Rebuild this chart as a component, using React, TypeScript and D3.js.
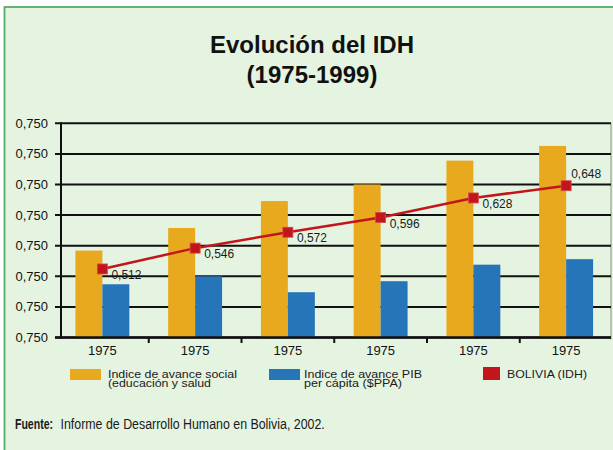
import React, { useEffect, useRef } from "react"
import * as d3 from "d3"

// data
const years = ["1975", "1975", "1975", "1975", "1975", "1975"]
const socialIndex = [0.542, 0.579, 0.623, 0.650, 0.689, 0.713]
const pibIndex = [0.487, 0.500, 0.474, 0.492, 0.519, 0.528]
const idhBolivia = [0.512, 0.546, 0.572, 0.596, 0.628, 0.648]
const idhLabels = ["0,512", "0,546", "0,572", "0,596", "0,628", "0,648"]
const yTicks = [0.40, 0.45, 0.50, 0.55, 0.60, 0.65, 0.70, 0.75]
const yTickLabels = ["0,750", "0,750", "0,750", "0,750", "0,750", "0,750", "0,750", "0,750"]
const legendLabels = [
    ["Indice de avance social", "(educación y salud"],
    ["Indice de avance PIB", "per cápita ($PPA)"],
    ["BOLIVIA (IDH)"],
]

const W = 613
const H = 450
const ORANGE = "#e9a91f"
const BLUE = "#2775b9"
const RED = "#c2161c"
const FONT = "'Liberation Sans', Arial, sans-serif"

export default function App() {
    const svgRef = useRef<SVGSVGElement>(null)

    useEffect(() => {
        if (!svgRef.current) return
        const svg = d3.select(svgRef.current)
        svg.selectAll("*").remove()

        // frame
        svg.append("rect")
            .attr("x", 4.5).attr("y", 7).attr("width", 700).attr("height", 500)
            .attr("fill", "#e5f4e1").attr("stroke", "#55ab67").attr("stroke-width", 1.8)

        // title
        const title = svg.append("text")
            .attr("text-anchor", "middle")
            .attr("font-family", FONT).attr("font-weight", "bold").attr("font-size", 24)
            .attr("fill", "#111")
        title.append("tspan").attr("x", 312).attr("y", 53).text("Evolución del IDH")
        title.append("tspan").attr("x", 312).attr("y", 83).text("(1975-1999)")

        const left = 61, right = 611, top = 123.3, bottom = 337.5

        const x = d3.scaleBand<number>()
            .domain(d3.range(years.length))
            .range([56, 612.5])
        const xSub = d3.scaleBand<string>()
            .domain(["social", "pib"])
            .range([0, x.bandwidth()])
            .paddingOuter(0.72)
        const y = d3.scaleLinear().domain([0.4, 0.75]).range([bottom, top])

        const g = svg.append("g")

        // right border of plot
        g.append("line")
            .attr("x1", right).attr("x2", right).attr("y1", top).attr("y2", bottom + 2)
            .attr("stroke", "#8a8f8a").attr("stroke-width", 1)

        // gridlines + y labels
        g.selectAll(".grid").data(yTicks).join("line")
            .attr("x1", 55).attr("x2", right)
            .attr("y1", d => y(d)).attr("y2", d => y(d))
            .attr("stroke", "#111").attr("stroke-width", 2)

        g.selectAll(".ylab").data(yTicks).join("text")
            .attr("x", 48).attr("y", d => y(d))
            .attr("dy", "0.35em")
            .attr("text-anchor", "end")
            .attr("font-family", FONT).attr("font-size", 13).attr("fill", "#111")
            .text((d, i) => yTickLabels[i])

        // bars
        g.selectAll(".social").data(socialIndex).join("rect")
            .attr("x", (d, i) => (x(i) ?? 0) + (xSub("social") ?? 0))
            .attr("width", xSub.bandwidth())
            .attr("y", d => y(d)).attr("height", d => bottom - y(d))
            .attr("fill", ORANGE)
        g.selectAll(".pib").data(pibIndex).join("rect")
            .attr("x", (d, i) => (x(i) ?? 0) + (xSub("pib") ?? 0))
            .attr("width", xSub.bandwidth())
            .attr("y", d => y(d)).attr("height", d => bottom - y(d))
            .attr("fill", BLUE)

        // axes
        g.append("line")
            .attr("x1", 55).attr("x2", right).attr("y1", bottom).attr("y2", bottom)
            .attr("stroke", "#111").attr("stroke-width", 2.5)
        g.append("line")
            .attr("x1", left).attr("x2", left).attr("y1", top - 1).attr("y2", bottom + 1)
            .attr("stroke", "#111").attr("stroke-width", 2)
        g.selectAll(".xtick").data(d3.range(1, years.length)).join("line")
            .attr("x1", d => x(d) ?? 0).attr("x2", d => x(d) ?? 0)
            .attr("y1", bottom).attr("y2", bottom + 5.5)
            .attr("stroke", "#111").attr("stroke-width", 2)
        g.selectAll(".xlab").data(years).join("text")
            .attr("x", (d, i) => (x(i) ?? 0) + x.bandwidth() / 2)
            .attr("y", 354.5)
            .attr("text-anchor", "middle")
            .attr("font-family", FONT).attr("font-size", 13).attr("fill", "#111")
            .text(d => d)

        // IDH line
        const cx = (i: number) => (x(i) ?? 0) + x.bandwidth() / 2
        const line = d3.line<number>()
            .x((d, i) => cx(i))
            .y(d => y(d))
        g.append("path")
            .datum(idhBolivia)
            .attr("d", line)
            .attr("fill", "none").attr("stroke", RED).attr("stroke-width", 2.5)
        g.selectAll(".mark").data(idhBolivia).join("rect")
            .attr("x", (d, i) => cx(i) - 5).attr("y", d => y(d) - 5)
            .attr("width", 10).attr("height", 10)
            .attr("fill", RED).attr("stroke", "#d24a4e").attr("stroke-width", 0.8)
        g.selectAll(".vlab").data(idhBolivia).join("text")
            .attr("x", (d, i) => cx(i) + (i === idhBolivia.length - 1 ? 5 : 9))
            .attr("y", (d, i) => y(d) + (i === idhBolivia.length - 1 ? -8 : 10))
            .attr("font-family", FONT).attr("font-size", 12).attr("fill", "#1a1a1a")
            .text((d, i) => idhLabels[i])

        // legend
        const legend = svg.append("g")
        const swatches = [
            { x: 70, w: 31, y: 369, h: 11, color: ORANGE, tx: 108, widths: [129, 103] },
            { x: 269, w: 31, y: 369, h: 11, color: BLUE, tx: 304, widths: [118, 98] },
            { x: 483, w: 17, y: 367, h: 13, color: RED, tx: 507, widths: [80] },
        ]
        swatches.forEach((s, i) => {
            legend.append("rect")
                .attr("x", s.x).attr("y", s.y).attr("width", s.w).attr("height", s.h)
                .attr("fill", s.color)
            legendLabels[i].forEach((l, j) => {
                legend.append("text")
                    .attr("x", s.tx).attr("y", 377.5 + j * 9.4)
                    .attr("font-family", FONT).attr("font-size", 11).attr("fill", "#1a1a1a")
                    .attr("textLength", s.widths[j]).attr("lengthAdjust", "spacingAndGlyphs")
                    .text(l)
            })
        })

        // source (condensed look via horizontal scaling)
        svg.append("g")
            .attr("transform", "translate(15,429) scale(0.68,1)")
            .append("text")
            .attr("font-family", FONT).attr("font-weight", "bold")
            .attr("font-size", 15.5).attr("fill", "#1a1a1a")
            .text("Fuente:")
        svg.append("g")
            .attr("transform", "translate(60.5,429) scale(0.80,1)")
            .append("text")
            .attr("font-family", FONT)
            .attr("font-size", 15.5).attr("fill", "#1a1a1a")
            .text("Informe de Desarrollo Humano en Bolivia, 2002.")
    }, [])

    return (
        <svg ref={svgRef} width={W} height={H}
            style={{ position: "absolute", left: 0, top: 0, display: "block", background: "#fff" }} />
    )
}
